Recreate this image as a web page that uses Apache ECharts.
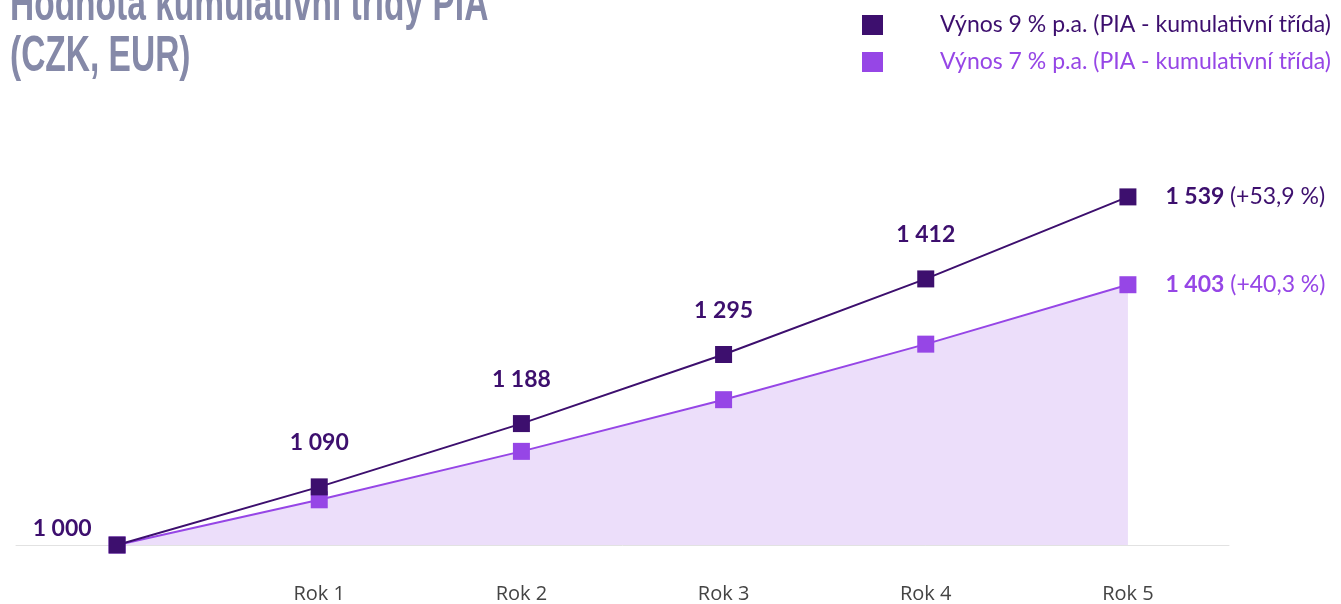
<!DOCTYPE html>
<html><head><meta charset="utf-8">
<script src="https://cdn.jsdelivr.net/npm/echarts@6/dist/echarts.min.js"></script>
<style>html,body{margin:0;padding:0;background:#fff}#c{width:1341px;height:604px}</style>
</head><body><div id="c"></div>
<script>
const titleLines = ['Hodnota kumulativní třídy PIA', '(CZK, EUR)'];
const categories = ['', 'Rok 1', 'Rok 2', 'Rok 3', 'Rok 4', 'Rok 5'];
const seriesNames = ['Výnos 9 % p.a. (PIA - kumulativní třída)', 'Výnos 7 % p.a. (PIA - kumulativní třída)'];
const values9 = [1000, 1090, 1188, 1295, 1412, 1539];
const values7 = [1000, 1070, 1145, 1225, 1311, 1403];
const growth9 = '+53,9 %';
const growth7 = '+40,3 %';

const C9 = '#3d0f6e', C7 = '#9646e6', AREA = '#ecdefa';
const FONT = 'Lato, "Open Sans", sans-serif';
const TFONT = 'bold 50px "Liberation Sans Narrow", "Liberation Sans", sans-serif';
const fmt = v => String(v).replace(/\B(?=(\d{3})+(?!\d))/g, ' ');

const chart = echarts.init(document.getElementById('c'), null, {renderer: 'canvas'});

const data9 = values9.map((v, i) => {
  const item = {value: v};
  if (i === 0) {
    item.label = {show: true, position: 'left', distance: 17, offset: [0, -16]};
  } else if (i === values9.length - 1) {
    item.label = {show: true, position: 'right', distance: 29,
      formatter: p => '{b|' + fmt(p.value) + '} {n|(' + growth9 + ')}'};
  } else {
    item.label = {show: true, position: 'top', distance: 24};
  }
  return item;
});
const data7 = values7.map((v, i) => {
  const item = {value: v};
  if (i === values7.length - 1) {
    item.label = {show: true, position: 'right', distance: 29,
      formatter: p => '{b|' + fmt(p.value) + '} {n|(' + growth7 + ')}'};
  }
  return item;
});

chart.setOption({
  animation: false,
  graphic: [
    {type: 'text', x: 10, y: -19, scaleX: 0.67, style: {text: titleLines[0], font: TFONT, fill: '#8589a8'}},
    {type: 'text', x: 10, y: 32, scaleX: 0.67, style: {text: titleLines[1], font: TFONT, fill: '#8589a8'}}
  ],
  legend: {
    orient: 'vertical', left: 862, top: 13.5, padding: 0, itemWidth: 21, itemHeight: 20, itemGap: 14,
    icon: 'rect',
    data: [
      {name: seriesNames[0], textStyle: {color: C9}},
      {name: seriesNames[1], textStyle: {color: C7}}
    ],
    textStyle: {fontFamily: FONT, fontSize: 23, padding: [0, 0, 0, 52]}
  },
  grid: {left: 16, right: 112, top: 157.5, bottom: 58},
  xAxis: {
    type: 'category', data: categories, boundaryGap: true,
    axisLine: {lineStyle: {color: '#e2e2e2', width: 1}},
    axisTick: {show: false},
    axisLabel: {color: '#444444', fontFamily: '"Open Sans", sans-serif', fontSize: 20, margin: 39}
  },
  yAxis: {type: 'value', min: 1000, max: 1600, show: false, splitLine: {show: false}},
  series: [
    {
      name: seriesNames[1], type: 'line', data: data7, symbol: 'rect', symbolSize: 17,
      lineStyle: {color: C7, width: 2}, itemStyle: {color: C7},
      areaStyle: {color: AREA, opacity: 1, origin: 'start'},
      label: {show: false, color: C7, fontFamily: FONT, fontSize: 23,
        rich: {b: {fontFamily: FONT, fontSize: 23, fontWeight: 'bold', color: C7},
               n: {fontFamily: FONT, fontSize: 23, color: C7}}},
      z: 2
    },
    {
      name: seriesNames[0], type: 'line', data: data9, symbol: 'rect', symbolSize: 17,
      lineStyle: {color: C9, width: 2}, itemStyle: {color: C9},
      label: {show: false, color: C9, fontFamily: FONT, fontSize: 23, fontWeight: 'bold',
        formatter: p => fmt(p.value),
        rich: {b: {fontFamily: FONT, fontSize: 23, fontWeight: 'bold', color: C9},
               n: {fontFamily: FONT, fontSize: 23, fontWeight: 'normal', color: C9}}},
      z: 3
    }
  ]
});
</script></body></html>
